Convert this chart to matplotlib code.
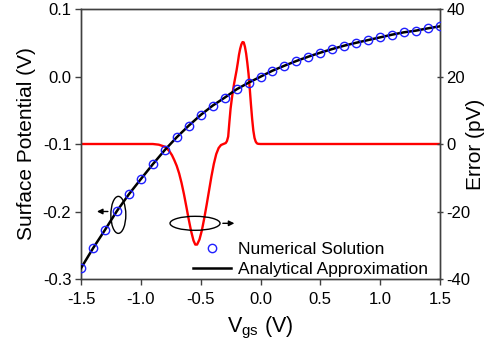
import matplotlib
matplotlib.use("Agg")
import matplotlib.pyplot as plt
from matplotlib.patches import Ellipse

plt.rcParams['font.family'] = ['Liberation Sans', 'DejaVu Sans']
plt.rcParams['axes.unicode_minus'] = False

# Surface potential (left axis)
vgs = [-1.5, -1.4, -1.3, -1.2, -1.1, -1.0, -0.9, -0.8, -0.7, -0.6, -0.5, -0.4, -0.3, -0.2, -0.1,
       0.0, 0.1, 0.2, 0.3, 0.4, 0.5, 0.6, 0.7, 0.8, 0.9, 1.0, 1.1, 1.2, 1.3, 1.4, 1.5]
psi_numerical = [-0.284, -0.2546, -0.2274, -0.1993, -0.1745, -0.152, -0.130, -0.109, -0.090, -0.0729,
                 -0.057, -0.0432, -0.0314, -0.019, -0.0092, -0.0003, 0.0086, 0.016, 0.023, 0.0294,
                 0.0353, 0.0407, 0.0457, 0.050, 0.054, 0.058, 0.062, 0.0655, 0.068, 0.0714, 0.0744]
psi_analytical = psi_numerical

# Error (right axis, pV)
vgs_err = [-1.5, -0.90, -0.85, -0.80, -0.78, -0.76, -0.74, -0.72, -0.70, -0.68, -0.66, -0.64,
           -0.62, -0.60, -0.58, -0.56, -0.545, -0.53, -0.51, -0.49, -0.47, -0.45, -0.43, -0.41,
           -0.39, -0.37, -0.35, -0.33, -0.31, -0.29, -0.28, -0.27, -0.26, -0.25, -0.24, -0.23,
           -0.22, -0.21, -0.20, -0.19, -0.18, -0.17, -0.16, -0.15, -0.14, -0.13, -0.12, -0.11,
           -0.10, -0.09, -0.08, -0.07, -0.06, -0.05, -0.04, -0.03, -0.02, 0.0, 1.5]
error_pv = [0.0, 0.0, -0.2, -0.8, -1.4, -2.2, -3.3, -4.8, -6.5, -8.7, -11.5, -14.8,
            -18.5, -22.3, -25.8, -28.6, -29.8, -29.8, -28.3, -25.6, -22.0, -18.0, -13.8, -9.6,
            -5.9, -3.0, -1.2, -0.3, 0.0, 0.3, 0.9, 2.2, 6.5, 10.5, 13.3, 15.8,
            18.0, 19.9, 21.8, 24.0, 26.4, 28.2, 29.5, 30.2, 30.1, 28.8, 26.8, 24.0,
            20.8, 16.5, 11.8, 7.5, 4.0, 1.8, 0.7, 0.2, 0.05, 0.0, 0.0]

xticks = [-1.5, -1.0, -0.5, 0.0, 0.5, 1.0, 1.5]
yticks_left = [-0.3, -0.2, -0.1, 0.0, 0.1]
yticks_right = [-40, -20, 0, 20, 40]

fig = plt.figure(figsize=(4.9, 3.41), dpi=100)
ax = fig.add_axes([81/490, 1-279/341, (440-81)/490, (279-9)/341])
ax2 = ax.twinx()

ax2.plot(vgs_err, error_pv, color='#ff0000', lw=1.7, zorder=1, solid_joinstyle='round')
ax.plot(vgs, psi_analytical, color='black', lw=1.8, zorder=3, label='Analytical Approximation')
ax.plot(vgs, psi_numerical, ls='none', marker='o', ms=6, mfc='none', mec='#1f1fff', mew=1.0,
        zorder=4, label='Numerical Solution')
ax.set_zorder(2)
ax.patch.set_visible(False)

ax.set_xlim(-1.5, 1.5)
ax.set_ylim(-0.3, 0.1)
ax2.set_ylim(-40, 40)
ax.set_xticks(xticks)
ax.set_xticklabels([f"{v:.1f}" for v in xticks])
ax.set_yticks(yticks_left)
ax.set_yticklabels([f"{v:.1f}" for v in yticks_left])
ax2.set_yticks(yticks_right)
ax2.set_yticklabels([str(v) for v in yticks_right])

spc = '#404040'
for a in (ax, ax2):
    for s in a.spines.values():
        s.set_color(spc)
        s.set_linewidth(1.0)
ax.tick_params(axis='x', direction='out', length=4, width=1, color=spc, labelsize=12, pad=5)
ax.tick_params(axis='y', direction='out', length=4, width=1, color=spc, labelsize=12, pad=3)
ax2.tick_params(axis='y', direction='inout', length=5, width=1, color=spc, labelsize=12, pad=2)

ax.set_xlabel('V$_{\\mathregular{gs}}$ (V)', fontsize=15.5, labelpad=6)
ax.set_ylabel('Surface Potential (V)', fontsize=15, labelpad=5)
ax2.set_ylabel('Error (pV)', fontsize=15, labelpad=-3)

# Annotation ellipses and arrows
ax.add_patch(Ellipse((-1.188, -0.205), 0.125, 0.0548, fill=False, ec='black', lw=1.0, zorder=5))
ax.annotate('', xy=(-1.39, -0.2), xytext=(-1.252, -0.2),
            arrowprops=dict(arrowstyle='-|>', color='black', lw=1.0, mutation_scale=8), zorder=5)
ax2.add_patch(Ellipse((-0.547, -23.5), 0.418, 4.15, fill=False, ec='black', lw=1.0, zorder=5))
ax2.annotate('', xy=(-0.195, -23.5), xytext=(-0.338, -23.5),
             arrowprops=dict(arrowstyle='-|>', color='black', lw=1.0, mutation_scale=8), zorder=5)

handles, labels = ax.get_legend_handles_labels()
leg = ax.legend(handles[::-1], labels[::-1], loc='lower left',
                bbox_to_anchor=((193-81)/359, (279-277)/270), frameon=False, fontsize=12.5,
                borderaxespad=0, borderpad=0, handlelength=2.2, handletextpad=0.4,
                labelspacing=0.3, numpoints=1)

fig.savefig('out.png', dpi=100)
